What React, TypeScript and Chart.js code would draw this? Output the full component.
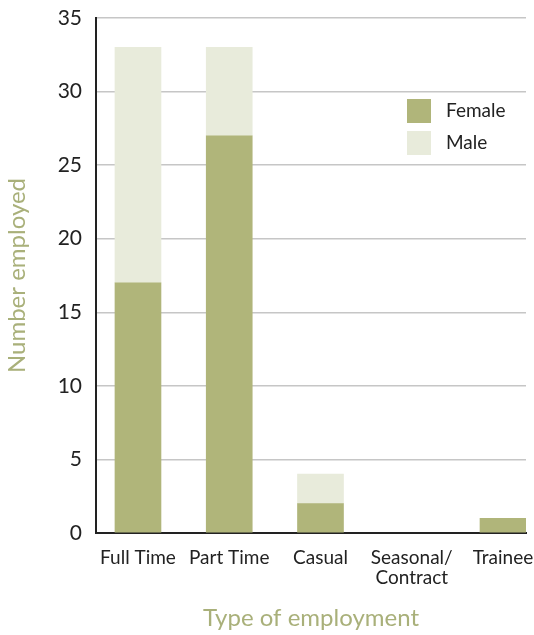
import React, { useEffect, useRef } from "react";
import { Chart, registerables } from "chart.js";

Chart.register(...registerables);

const categories: (string | string[])[] = ["Full Time", "Part Time", "Casual", ["Seasonal/", "Contract"], "Trainee"];
const femaleValues = [17, 27, 2, 0, 1];
const maleValues = [16, 6, 2, 0, 0];
const yTicks = [0, 5, 10, 15, 20, 25, 30, 35];

const FEMALE = "#b0b57a";
const MALE = "#e8ebdb";
const TITLE = "#a9b07a";
const FONT = "Lato, 'Open Sans', sans-serif";

const legendInside = {
  id: "legendInside",
  afterDraw(chart: any) {
    const { ctx, chartArea } = chart;
    const x = chartArea.right - 119;
    let y = chartArea.top + 81;
    ctx.save();
    chart.data.datasets.forEach((ds: any) => {
      ctx.fillStyle = ds.backgroundColor;
      ctx.fillRect(x, y, 24, 24);
      ctx.fillStyle = "#222";
      ctx.font = `19px ${FONT}`;
      ctx.textBaseline = "middle";
      ctx.textAlign = "left";
      ctx.fillText(ds.label, x + 39, y + 12);
      y += 32;
    });
    ctx.restore();
  },
};

const toPoints = (arr: number[]) => arr.map((v, i) => ({ x: i, y: v === 0 ? null : v }));

export default function App() {
  const ref = useRef<HTMLCanvasElement>(null);
  useEffect(() => {
    if (!ref.current) return;
    const chart = new Chart(ref.current, {
      type: "bar",
      data: {
        datasets: [
          {
            label: "Female",
            data: toPoints(femaleValues) as any,
            backgroundColor: FEMALE,
            barThickness: 46,
          },
          {
            label: "Male",
            data: toPoints(maleValues) as any,
            backgroundColor: MALE,
            barThickness: 46,
          },
        ],
      },
      options: {
        animation: false,
        responsive: false,
        maintainAspectRatio: false,
        layout: { padding: { top: 18, right: 8, left: 0, bottom: 0 } },
        plugins: { legend: { display: false }, tooltip: { enabled: false } },
        scales: {
          x: {
            type: "linear",
            stacked: true,
            offset: false,
            min: -0.46,
            max: 4.252,
            afterBuildTicks: (s: any) => {
              s.ticks = categories.map((_, i) => ({ value: i }));
            },
            afterFit: (s: any) => {
              s.height = 102;
              s.paddingLeft = 0;
              s.paddingRight = 0;
            },
            grid: { display: false },
            border: { display: true, color: "#222", width: 2 },
            ticks: {
              autoSkip: false,
              maxRotation: 0,
              padding: 7,
              color: "#222",
              font: { family: FONT, size: 19, lineHeight: 1.05 },
              callback: (v: any) => categories[Math.round(Number(v))] as any,
            },
            title: {
              display: true,
              text: "Type of employment",
              color: TITLE,
              font: { family: FONT, size: 24 },
              padding: { top: 0, bottom: 2 },
            },
          },
          y: {
            stacked: true,
            min: 0,
            max: 35,
            afterBuildTicks: (s: any) => {
              s.ticks = yTicks.map((v) => ({ value: v }));
            },
            afterFit: (s: any) => {
              s.width = 96;
              s.paddingTop = 0;
              s.paddingBottom = 0;
            },
            grid: { color: "#c6c6c6", lineWidth: 1.5, drawTicks: false },
            border: { display: true, color: "#222", width: 2 },
            ticks: {
              padding: 14,
              color: "#222",
              font: { family: FONT, size: 21 },
            },
            title: {
              display: true,
              text: "Number employed",
              color: TITLE,
              font: { family: FONT, size: 24 },
              padding: { top: 3, bottom: 0 },
            },
          },
        },
      },
      plugins: [legendInside],
    });
    return () => chart.destroy();
  }, []);
  return (
    <div style={{ position: "fixed", left: 0, top: 0, width: 534, height: 635, background: "#fff" }}>
      <canvas ref={ref} width={534} height={635} style={{ display: "block" }} />
    </div>
  );
}
